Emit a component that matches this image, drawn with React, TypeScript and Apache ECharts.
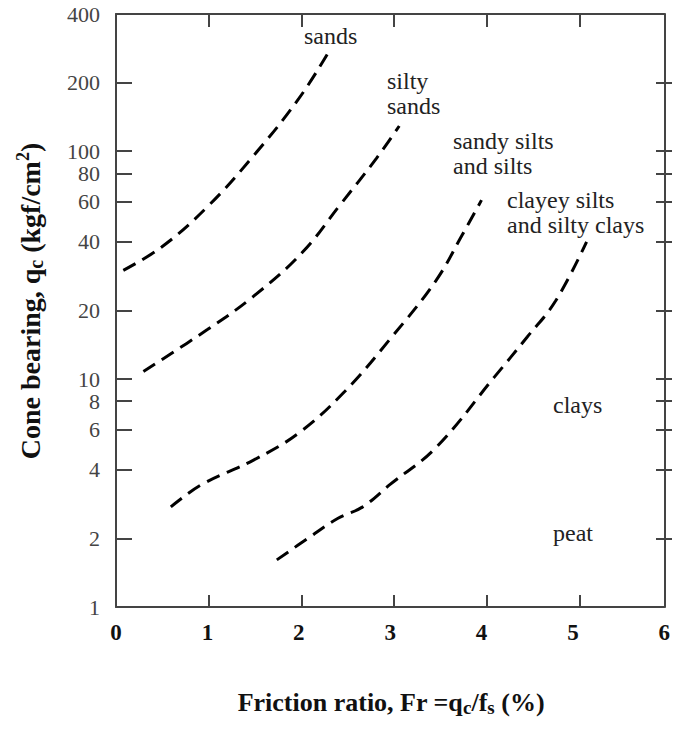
import React, { useEffect, useRef } from "react";
import * as echarts from "echarts";

const sandsX = [0.08, 0.5, 1.0, 1.5, 2.0, 2.34];
const sandsY = [30, 38, 57, 95, 170, 278];

const siltySandsX = [0.3, 1.0, 1.5, 2.04, 2.45, 2.85, 3.1];
const siltySandsY = [10.8, 16.5, 23, 36, 58, 93, 129];

const sandySiltsX = [0.6, 0.94, 1.5, 2.0, 2.5, 3.0, 3.5, 3.79, 4.0];
const sandySiltsY = [2.75, 3.45, 4.4, 5.8, 8.8, 15, 27, 43, 61];

const clayeySiltsX = [1.76, 2.1, 2.43, 2.7, 3.0, 3.5, 4.14, 4.5, 4.81, 5.15];
const clayeySiltsY = [1.61, 2.0, 2.45, 2.75, 3.45, 5.0, 10.2, 15.3, 22, 40];

const yTickValues = [2, 4, 6, 8, 10, 20, 40, 60, 80, 100, 200];
const yLabelValues = [1, 2, 4, 6, 8, 10, 20, 40, 60, 80, 100, 200, 400];
const xTickValues = [1, 2, 3, 4, 5];

const zoneLabels = [
  { text: "sands", x: 304, y: 36 },
  { text: "silty\nsands", x: 387, y: 93 },
  { text: "sandy silts\nand silts", x: 453, y: 153 },
  { text: "clayey silts\nand silty clays", x: 507, y: 212 },
  { text: "clays", x: 553, y: 405 },
  { text: "peat", x: 553, y: 533 },
];

const FONT = "'Liberation Serif', 'Times New Roman', serif";

const GRID_LEFT = 116;
const GRID_RIGHT = 1;
const GRID_TOP = 14;
const GRID_BOTTOM = 124;
const W = 673;
const H = 731;

function pairs(xs: number[], ys: number[]) {
  return xs.map((x, i) => [x, ys[i]]);
}

export default function App() {
  const ref = useRef<HTMLDivElement>(null);
  useEffect(() => {
    if (!ref.current) return;
    const chart = echarts.init(ref.current, undefined, { renderer: "svg" });
    const frameLine = { show: true, onZero: false, lineStyle: { color: "#444", width: 2 } };
    const noLine = { show: false, onZero: false };
    const tickStyle = { color: "#444", width: 2 };
    const lineSeries = (name: string, xs: number[], ys: number[]) => ({
      name,
      type: "line",
      data: pairs(xs, ys),
      showSymbol: false,
      smooth: 0.4,
      lineStyle: { color: "#000", width: 3, type: [14, 8] },
      xAxisIndex: 0,
      yAxisIndex: 0,
    });
    const xBase = { type: "value", min: 0, max: 6, interval: 1, splitLine: { show: false } };
    const yBase = { type: "log", logBase: 10, min: 1, max: 400, splitLine: { show: false }, minorTick: { show: false } };
    const hidden = (gridIndex: number) => ({
      type: "value",
      gridIndex,
      show: false,
      min: 0,
      max: 1,
      axisLine: noLine,
      splitLine: { show: false },
    });
    chart.setOption({
      animation: false,
      backgroundColor: "#fff",
      grid: [
        // main plot
        { left: GRID_LEFT, right: GRID_RIGHT, top: GRID_TOP, bottom: GRID_BOTTOM },
        // strip left of the plot: its right axis gives inward ticks on the left frame
        { left: 0, width: GRID_LEFT, top: GRID_TOP, bottom: GRID_BOTTOM },
        // strip right of the plot: its left axis gives inward ticks on the right frame
        { left: W - GRID_RIGHT, width: 40, top: GRID_TOP, bottom: GRID_BOTTOM },
        // strip above the plot: its bottom axis gives inward ticks on the top frame
        { left: GRID_LEFT, right: GRID_RIGHT, top: 0, height: GRID_TOP },
        // strip below the plot: its top axis gives inward ticks on the bottom frame
        { left: GRID_LEFT, right: GRID_RIGHT, top: H - GRID_BOTTOM, height: 40 },
      ],
      xAxis: [
        {
          ...xBase,
          gridIndex: 0,
          position: "bottom",
          axisLine: frameLine,
          axisTick: { show: false },
          axisLabel: {
            show: true,
            fontFamily: FONT,
            fontSize: 23,
            fontWeight: "bold",
            color: "#111",
            margin: 14,
          },
        },
        {
          ...xBase,
          gridIndex: 0,
          position: "top",
          axisLine: frameLine,
          axisTick: { show: false },
          axisLabel: { show: false },
        },
        hidden(1),
        hidden(2),
        {
          ...xBase,
          gridIndex: 3,
          position: "bottom",
          axisLine: noLine,
          axisTick: { show: true, length: 13, customValues: xTickValues, lineStyle: tickStyle },
          axisLabel: { show: false },
        },
        {
          ...xBase,
          gridIndex: 4,
          position: "top",
          axisLine: noLine,
          axisTick: { show: true, length: 12, customValues: xTickValues, lineStyle: tickStyle },
          axisLabel: { show: false },
        },
      ],
      yAxis: [
        {
          ...yBase,
          gridIndex: 0,
          position: "left",
          axisLine: frameLine,
          axisTick: { show: false },
          axisLabel: {
            show: true,
            customValues: yLabelValues,
            fontFamily: FONT,
            fontSize: 22,
            color: "#444",
            margin: 16,
          },
        },
        {
          ...yBase,
          gridIndex: 0,
          position: "right",
          axisLine: frameLine,
          axisTick: { show: false },
          axisLabel: { show: false },
        },
        {
          ...yBase,
          gridIndex: 1,
          position: "right",
          axisLine: noLine,
          axisTick: { show: true, length: 16, customValues: yTickValues, lineStyle: tickStyle },
          axisLabel: { show: false },
        },
        {
          ...yBase,
          gridIndex: 2,
          position: "left",
          axisLine: noLine,
          axisTick: { show: true, length: 16, customValues: yTickValues, lineStyle: tickStyle },
          axisLabel: { show: false },
        },
        hidden(3),
        hidden(4),
      ],
      series: [
        lineSeries("sands", sandsX, sandsY),
        lineSeries("silty sands", siltySandsX, siltySandsY),
        lineSeries("sandy silts", sandySiltsX, sandySiltsY),
        lineSeries("clayey silts", clayeySiltsX, clayeySiltsY),
      ],
      graphic: [
        ...zoneLabels.map((z) => ({
          type: "text",
          x: z.x,
          y: z.y,
          style: {
            text: z.text,
            fontFamily: FONT,
            fontSize: 24,
            lineHeight: 25,
            fill: "#222",
            textAlign: "left",
            textVerticalAlign: "middle",
          },
        })),
        {
          type: "text",
          x: 391,
          y: 702,
          style: {
            text: "{m|Friction ratio, Fr =q}{s|c}{m|/f}{s|s}{m| (%)}",
            textAlign: "center",
            textVerticalAlign: "middle",
            fill: "#111",
            rich: {
              m: { fontFamily: FONT, fontSize: 26, fontWeight: "bold", fill: "#111", color: "#111", lineHeight: 30 },
              s: { fontFamily: FONT, fontSize: 19, fontWeight: "bold", fill: "#111", color: "#111", lineHeight: 19, verticalAlign: "bottom" },
            },
          },
        },
        {
          type: "text",
          x: 30,
          y: 301,
          rotation: Math.PI / 2,
          style: {
            text: "{m|Cone bearing, q}{s|c}{m| (kgf/cm}{p|2}{m|)}",
            textAlign: "center",
            textVerticalAlign: "middle",
            fill: "#111",
            rich: {
              m: { fontFamily: FONT, fontSize: 28, fontWeight: "bold", fill: "#111", color: "#111", lineHeight: 32 },
              s: { fontFamily: FONT, fontSize: 20, fontWeight: "bold", fill: "#111", color: "#111", lineHeight: 20, verticalAlign: "bottom" },
              p: { fontFamily: FONT, fontSize: 18, fontWeight: "bold", fill: "#111", color: "#111", lineHeight: 18, verticalAlign: "top" },
            },
          },
        },
      ],
    });
    return () => chart.dispose();
  }, []);
  return (
    <div
      ref={ref}
      style={{ position: "absolute", left: 0, top: 0, width: W, height: H, background: "#fff" }}
    />
  );
}
